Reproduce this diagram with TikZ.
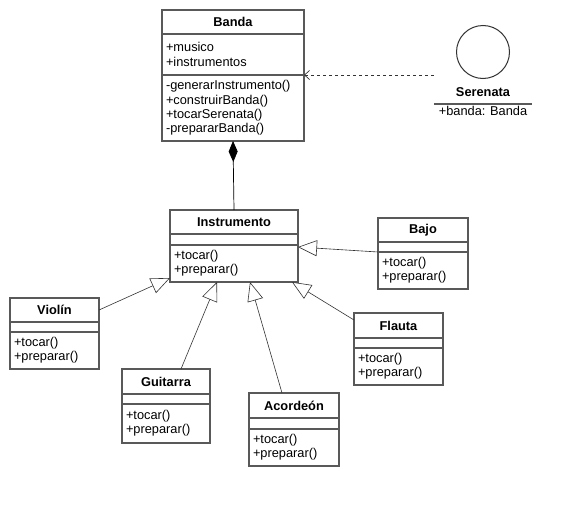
\documentclass[tikz,border=0pt]{standalone}
\usepackage{fontspec}
\setmainfont{Liberation Sans}
\usetikzlibrary{shapes,arrows.meta,positioning}

\newcommand{\umlfont}{\fontsize{12.8}{14.3}\selectfont}

\tikzset{
  clsbox/.style={draw=black!65,line width=1.2pt,fill=white,inner xsep=4pt,inner ysep=0pt,outer sep=0pt,text width=#1,anchor=north},
  clshead/.style={clsbox=#1,minimum height=24pt,align=center,font=\umlfont\bfseries},
  clsattr/.style={clsbox=#1,minimum height=10pt,align=left},
  clsops/.style={clsbox=#1,minimum height=37pt,align=left},
  gen/.style={-{Triangle[length=19pt,width=16pt,fill=white]},draw=black!80,line width=0.6pt},
}

\begin{document}
\begin{tikzpicture}[x=1pt,y=-1pt,font=\umlfont]
    \fill[white] (0,0) rectangle (571,506);
    \useasboundingbox (0,0) rectangle (571,506);

    % Banda
    \node[clshead=134pt] (banda) at (233,10) {Banda};
    \node[clsattr=134pt,minimum height=41pt,below=0pt of banda] (banda-a) {+musico\\+instrumentos};
    \node[clsops=134pt,minimum height=66pt,below=0pt of banda-a] (banda-m) {-generarInstrumento()\\+construirBanda()\\+tocarSerenata()\\-prepararBanda()};

    % Serenata
    \node[circle,draw=black!80,line width=1pt,minimum size=53pt,inner sep=0pt] (ser) at (483,52) {};
    \node[font=\umlfont\bfseries] (ser-name) at (483,92) {Serenata};
    \node[minimum width=98pt,inner ysep=2pt,anchor=north] (ser-attr) at (483,104) {+banda: Banda};
    \draw[draw=black!65,line width=1.2pt] (ser-attr.north west) -- (ser-attr.north east);

    % Instrumento
    \node[clshead=120pt] (inst) at (234,210) {Instrumento};
    \node[clsattr=120pt,minimum height=11pt,below=0pt of inst] (inst-a) {};
    \node[clsops=120pt,below=0pt of inst-a] (inst-m) {+tocar()\\+preparar()};

    % subclasses
    \node[clshead=81pt] (violin) at (54.5,298) {Violín};
    \node[clsattr=81pt,below=0pt of violin] (violin-a) {};
    \node[clsops=81pt,below=0pt of violin-a] (violin-m) {+tocar()\\+preparar()};

    \node[clshead=80pt,minimum height=25pt] (guitarra) at (166,369) {Guitarra};
    \node[clsattr=80pt,below=0pt of guitarra] (guitarra-a) {};
    \node[clsops=80pt,minimum height=39pt,below=0pt of guitarra-a] (guitarra-m) {+tocar()\\+preparar()};

    \node[clshead=82pt,minimum height=25pt] (acordeon) at (294,393) {Acordeón};
    \node[clsattr=82pt,minimum height=11pt,below=0pt of acordeon] (acordeon-a) {};
    \node[clsops=82pt,below=0pt of acordeon-a] (acordeon-m) {+tocar()\\+preparar()};

    \node[clshead=82pt] (bajo) at (423,218) {Bajo};
    \node[clsattr=82pt,below=0pt of bajo] (bajo-a) {};
    \node[clsops=82pt,below=0pt of bajo-a] (bajo-m) {+tocar()\\+preparar()};

    \node[clshead=81pt,minimum height=25pt] (flauta) at (398.5,313) {Flauta};
    \node[clsattr=81pt,below=0pt of flauta] (flauta-a) {};
    \node[clsops=81pt,below=0pt of flauta-a] (flauta-m) {+tocar()\\+preparar()};

    % relations
    \draw[-{Straight Barb[length=5pt,width=9pt]},dash pattern=on 3pt off 3pt,draw=black!80,line width=0.7pt] (ser-attr.north west |- banda-a.south east) -- (banda-a.south east);
    \draw[{Diamond[length=21pt,width=9pt]}-,line width=0.7pt] (banda-m.south) -- (inst.north);

    \draw[gen] (violin.east) -- ([yshift=4pt]inst-m.south west);
    \draw[gen] ([xshift=15pt]guitarra.north) -- ([xshift=-17pt]inst-m.south);
    \draw[gen] ([xshift=-12pt]acordeon.north) -- ([xshift=16pt]inst-m.south);
    \draw[gen] (bajo-a.south west) -- ([yshift=-2pt]inst-m.north east);
    \draw[gen] ([yshift=-7pt]flauta.north west) -- ([xshift=-6pt]inst-m.south east);
\end{tikzpicture}
\end{document}
